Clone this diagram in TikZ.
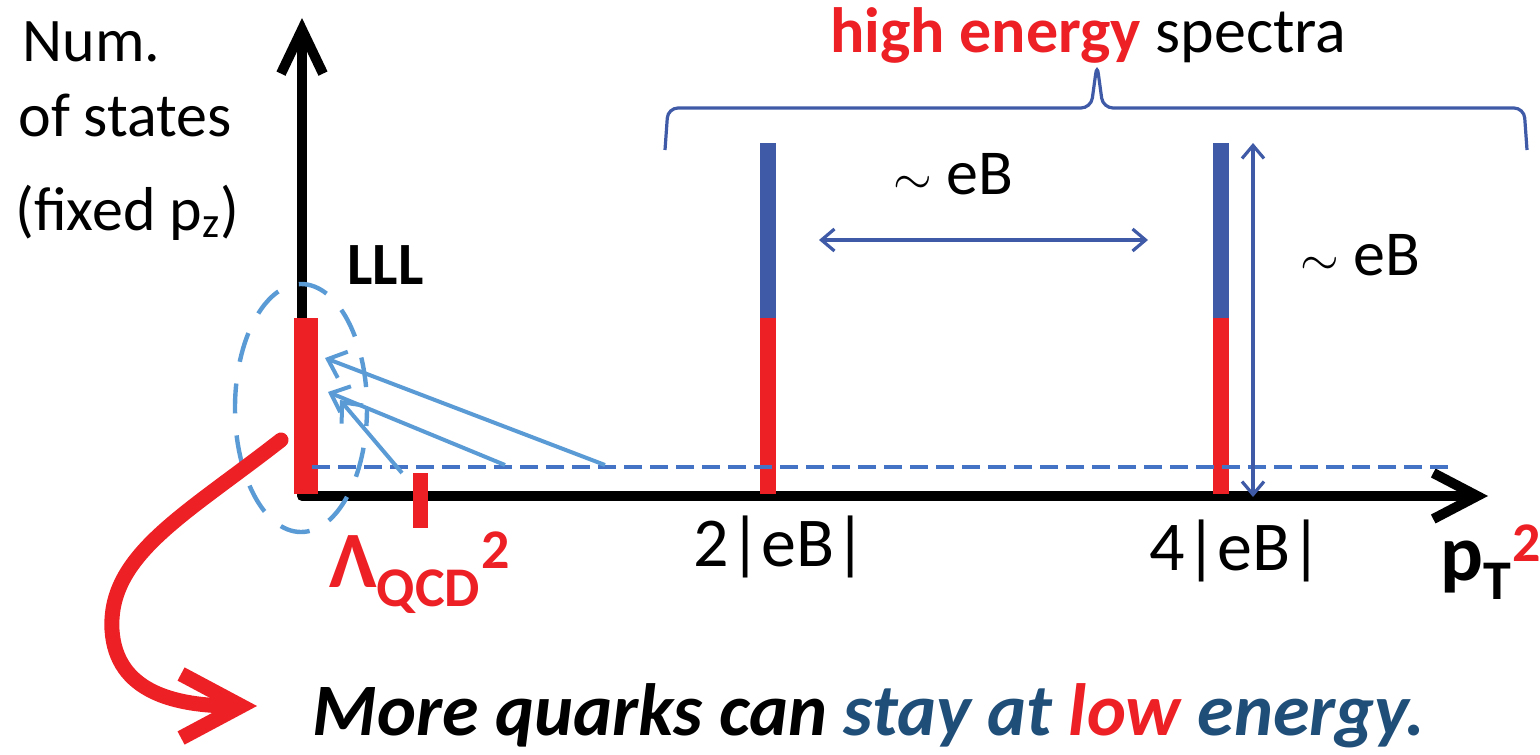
\documentclass[tikz,border=0pt]{standalone}
\usepackage{fontspec}
\setmainfont{Carlito}
\usetikzlibrary{arrows.meta}
\usetikzlibrary{positioning}
\definecolor{lvlred}{RGB}{237,32,38}
\definecolor{lvlblue}{RGB}{63,90,166}
\definecolor{pale}{RGB}{91,155,213}
\definecolor{dashblue}{RGB}{68,114,196}
\definecolor{deepblue}{RGB}{31,78,121}
\tikzset{gaptip/.tip={Straight Barb[length=6.5pt,width=11pt]},
  jumptip/.tip={Straight Barb[length=8pt,width=14pt]}}
\tikzset{lvl/.style={line width=8pt},
  twohead/.style={lvlblue,line width=1.6pt,gaptip-gaptip},
  jump/.style={pale,line width=2pt,-jumptip},
  txt/.style={inner sep=0pt,font=\fontsize{#1}{#1}\selectfont}}

\begin{document}
\begin{tikzpicture}[x=0.5pt, y=-0.5pt]
				\useasboundingbox (0,0) rectangle (1540,754);
				%
				\coordinate (origin) at (302,496);
				\coordinate (ytop) at (302,18);
				\coordinate (xend) at (1488,496);
				\draw[line width=5pt,line join=round,{Straight Barb[length=22pt,width=21pt]}-{Straight Barb[length=22pt,width=23pt]}](ytop)--(origin)--(xend);
				%
				\draw[lvl,line width=12pt,lvlred](306,494)--(306,318);
				\foreach \x in {768,1221}{
					\draw[lvl,lvlred](\x,494)--(\x,318);
					\draw[lvl,lvlblue](\x,318)--(\x,143);
				}
				\draw[lvlred,line width=7.5pt](420,473)--(420,528);
				\draw[dashblue,line width=1.6pt,dash pattern=on 9pt off 4pt](312,467)--(1455,467);
				%
				\draw[pale,line width=2.2pt,dash pattern=on 15pt off 11pt,dash phase=6pt](301,408) ellipse [x radius=66, y radius=124];
				\coordinate (hitA) at (325,358);
				\coordinate (hitB) at (328,392);
				\coordinate (hitC) at (340,400);
				\draw[jump](605,465)--(hitA);
				\draw[jump](505,465)--(hitB);
				\draw[jump](402,473)--(hitC);
				%
				\coordinate (gapl) at (819,240);
				\coordinate (gapr) at (1148,240);
				\coordinate (gapt) at (1253,143);
				\coordinate (gapb) at (1253,497);
				\draw[twohead](gapl)--(gapr);
				\draw[twohead](gapt)--(gapb);
				%
				\draw[lvlblue,line width=1.6pt,rounded corners=5pt](665,150)--(668,108)--(1091,108)--(1097,64)--(1103,108)--(1524,108)--(1527,150);
				%
				\node[txt=31,anchor=base west] (num) at (22,62) {Num.};
				\node[txt=31,anchor=base west] (states) at (18,137) {of states};
				\node[txt=31,anchor=base west] (fixed) at (15,230) {(fixed p\textsubscript{z})};
				\node[txt=30,anchor=base west] (lll) at (347,285) {\bfseries LLL};
				\node[txt=32,anchor=base west] (high) at (830,53) {\textcolor{lvlred}{\bfseries high energy} spectra};
				\node[txt=32,anchor=base west] (gaph) at (893,195) {$\sim$ eB};
				\node[txt=32,anchor=base west] (gapv) at (1300,275) {$\sim$ eB};
				\node[txt=35,anchor=base] (two) at (780,566) {2|eB|};
				\node[txt=35,anchor=base] (four) at (1236,570) {4|eB|};
				\node[txt=40,anchor=base west] (pt) at (1440,580) {\bfseries p\textsubscript{T}\textsuperscript{\textcolor{lvlred}{2}}};
				\node[txt=40,anchor=base west,text=lvlred] (qcd) at (329,587) {\bfseries Λ\textsubscript{QCD}\textsuperscript{2}};
				\node[txt=37,anchor=base west] (msg) at (312,735) {\bfseries\itshape More quarks can \textcolor{deepblue}{stay at} \textcolor{lvlred}{low} \textcolor{deepblue}{energy.}};
				%
				\coordinate (leave) at (281,440);
				\coordinate (land) at (257,706);
				\draw[lvlred,line width=7.5pt,line cap=round,-{Straight Barb[length=30pt,width=32pt]}](leave) .. controls (185,515) and (108,555) .. (112,630) .. controls (116,692) and (175,706) .. (land);
			\end{tikzpicture}
\end{document}
